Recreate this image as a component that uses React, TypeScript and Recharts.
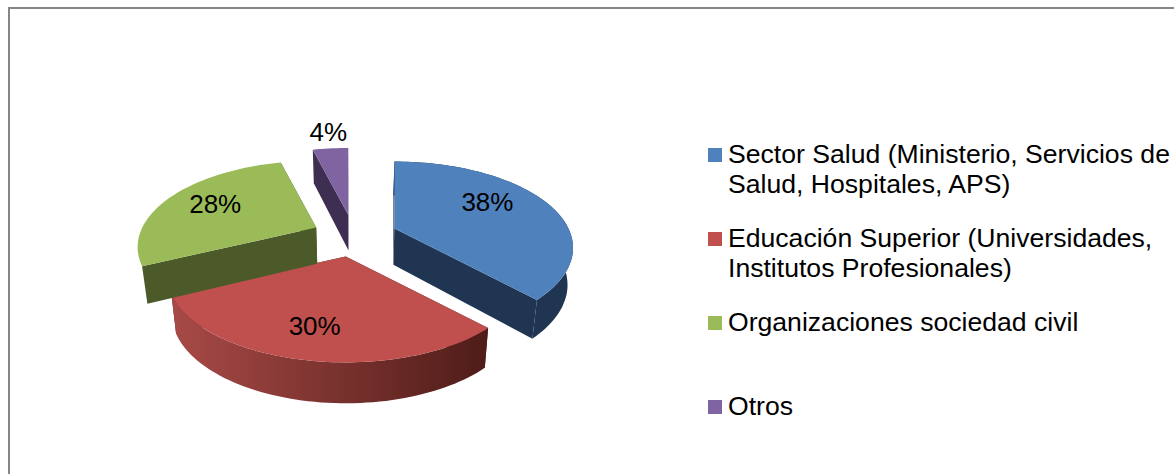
import { Legend, Pie, PieChart } from "recharts";

const categories = [
  "Sector Salud (Ministerio, Servicios de Salud, Hospitales, APS)",
  "Educación Superior (Universidades, Institutos Profesionales)",
  "Organizaciones sociedad civil",
  "Otros",
];
const shares = [38, 30, 28, 4];

const topColors = ["#4F81BD", "#C0504D", "#9BBB59", "#8064A2"];
const wallColors = ["#1F3552", "#A84A47", "#4B5A28", "#3D2E52"];
const wallEndColors = ["#1F3552", "#4F1C18", "#4B5A28", "#3D2E52"];
const rimVisible = [true, true, false, false];
const explode = [0.25, 0.256, 0.24, 0.26];
// label offset from each slice's own apex, px
const labelOffsets = [
  [93, -26],
  [-31, 69],
  [-101, -24],
  [-20, -83],
];

const TILT = 0.471;
const PERSPECTIVE = 0.225;

const rows = categories.map((name, i) => ({
  name,
  value: shares[i],
  fill: topColors[i],
  slice: i,
}));

type Pt = { x: number; y: number };

// disc -> screen, theta clockwise from 12 o'clock
function project(theta: number, R: number, apex: Pt): Pt {
  const u = Math.sin(theta);
  const v = -Math.cos(theta);
  const d = 1 - PERSPECTIVE * v;
  return { x: apex.x + (R * u) / d, y: apex.y + (R * TILT * v) / d };
}

function sliceApex(midAngle: number, slice: number, cx: number, cy: number, R: number): Pt {
  const mid = ((90 - midAngle) * Math.PI) / 180;
  return {
    x: cx + R * explode[slice] * Math.sin(mid),
    y: cy - R * TILT * explode[slice] * Math.cos(mid),
  };
}

const toPath = (pts: Pt[]) =>
  pts.map((p, i) => `${i ? "L" : "M"}${p.x.toFixed(1)},${p.y.toFixed(1)}`).join(" ") + " Z";

function Slice3D(props: any) {
  const { cx, cy, outerRadius: R, startAngle, endAngle, midAngle, fill, slice } = props;
  const apex = sliceApex(midAngle, slice, cx, cy, R);
  const drop = (p: Pt): Pt => ({
    x: cx + (p.x - cx) * 0.975,
    y: p.y + 36.5 + 0.035 * (p.y - cy),
  });

  const a0 = ((90 - startAngle) * Math.PI) / 180;
  const a1 = ((90 - endAngle) * Math.PI) / 180;
  const arc: Pt[] = [];
  const steps = Math.max(4, Math.ceil(Math.abs(a1 - a0) / 0.03));
  for (let s = 0; s <= steps; s++) arc.push(project(a0 + ((a1 - a0) * s) / steps, R, apex));

  const rim = [...arc, ...arc.map(drop).reverse()];
  const first = arc[0];
  const last = arc[arc.length - 1];
  const gradId = `rim-${slice}`;

  return (
    <g>
      <defs>
        <linearGradient id={gradId} x1="0" y1="0" x2="1" y2="0">
          <stop offset="0" stopColor={wallColors[slice]} />
          <stop offset="1" stopColor={wallEndColors[slice]} />
        </linearGradient>
      </defs>
      <path d={toPath([first, apex, drop(apex), drop(first)])} fill={wallEndColors[slice]} />
      <path d={toPath([last, apex, drop(apex), drop(last)])} fill={wallEndColors[slice]} />
      {rimVisible[slice] && <path d={toPath(rim)} fill={`url(#${gradId})`} />}
      <path d={toPath([apex, ...arc])} fill={fill} />
    </g>
  );
}

function renderLabel(props: any) {
  const { cx, cy, outerRadius, midAngle, value, payload } = props;
  const slice = payload?.slice ?? props.slice;
  const apex = sliceApex(midAngle, slice, cx, cy, outerRadius);
  return (
    <text
      x={apex.x + labelOffsets[slice][0]}
      y={apex.y + labelOffsets[slice][1]}
      textAnchor="middle"
      dominantBaseline="central"
      fontSize={26}
      fill="#000"
    >
      {value}%
    </text>
  );
}

function LegendList({ payload }: any) {
  return (
    <div>
      {(payload ?? []).map((entry: any) => (
        <div key={entry.value} style={{ position: "relative", height: 84, paddingLeft: 20 }}>
          <span
            style={{
              position: "absolute",
              left: 0,
              top: 10,
              width: 14,
              height: 14,
              background: entry.color,
            }}
          />
          <span
            style={{
              display: "block",
              position: "relative",
              top: 1,
              fontSize: 26.6,
              lineHeight: "30px",
              color: "#000",
            }}
          >
            {entry.value}
          </span>
        </div>
      ))}
    </div>
  );
}

export default function App() {
  return (
    <div
      style={{
        position: "absolute",
        left: 0,
        top: 0,
        width: 1174,
        height: 474,
        overflow: "hidden",
        background: "#fff",
        fontFamily: '"Liberation Sans", Arial, sans-serif',
      }}
    >
      <div
        style={{
          position: "absolute",
          left: 8,
          top: 7,
          right: 0,
          bottom: 0,
          borderTop: "2px solid #868686",
          borderLeft: "2px solid #868686",
        }}
      />
      <PieChart
        width={1174}
        height={474}
        margin={{ top: 0, right: 0, bottom: 0, left: 0 }}
        style={{ position: "absolute", left: 0, top: 0 }}
      >
        <Pie
          data={rows}
          dataKey="value"
          nameKey="name"
          cx={354}
          cy={236}
          outerRadius={174}
          startAngle={90}
          endAngle={-270}
          stroke="none"
          shape={Slice3D}
          label={renderLabel}
          labelLine={false}
          isAnimationActive={false}
        />
        <Legend
          layout="vertical"
          align="right"
          verticalAlign="top"
          itemSorter={null}
          content={LegendList}
          wrapperStyle={{ left: 708, top: 138, width: 466 }}
        />
      </PieChart>
    </div>
  );
}
